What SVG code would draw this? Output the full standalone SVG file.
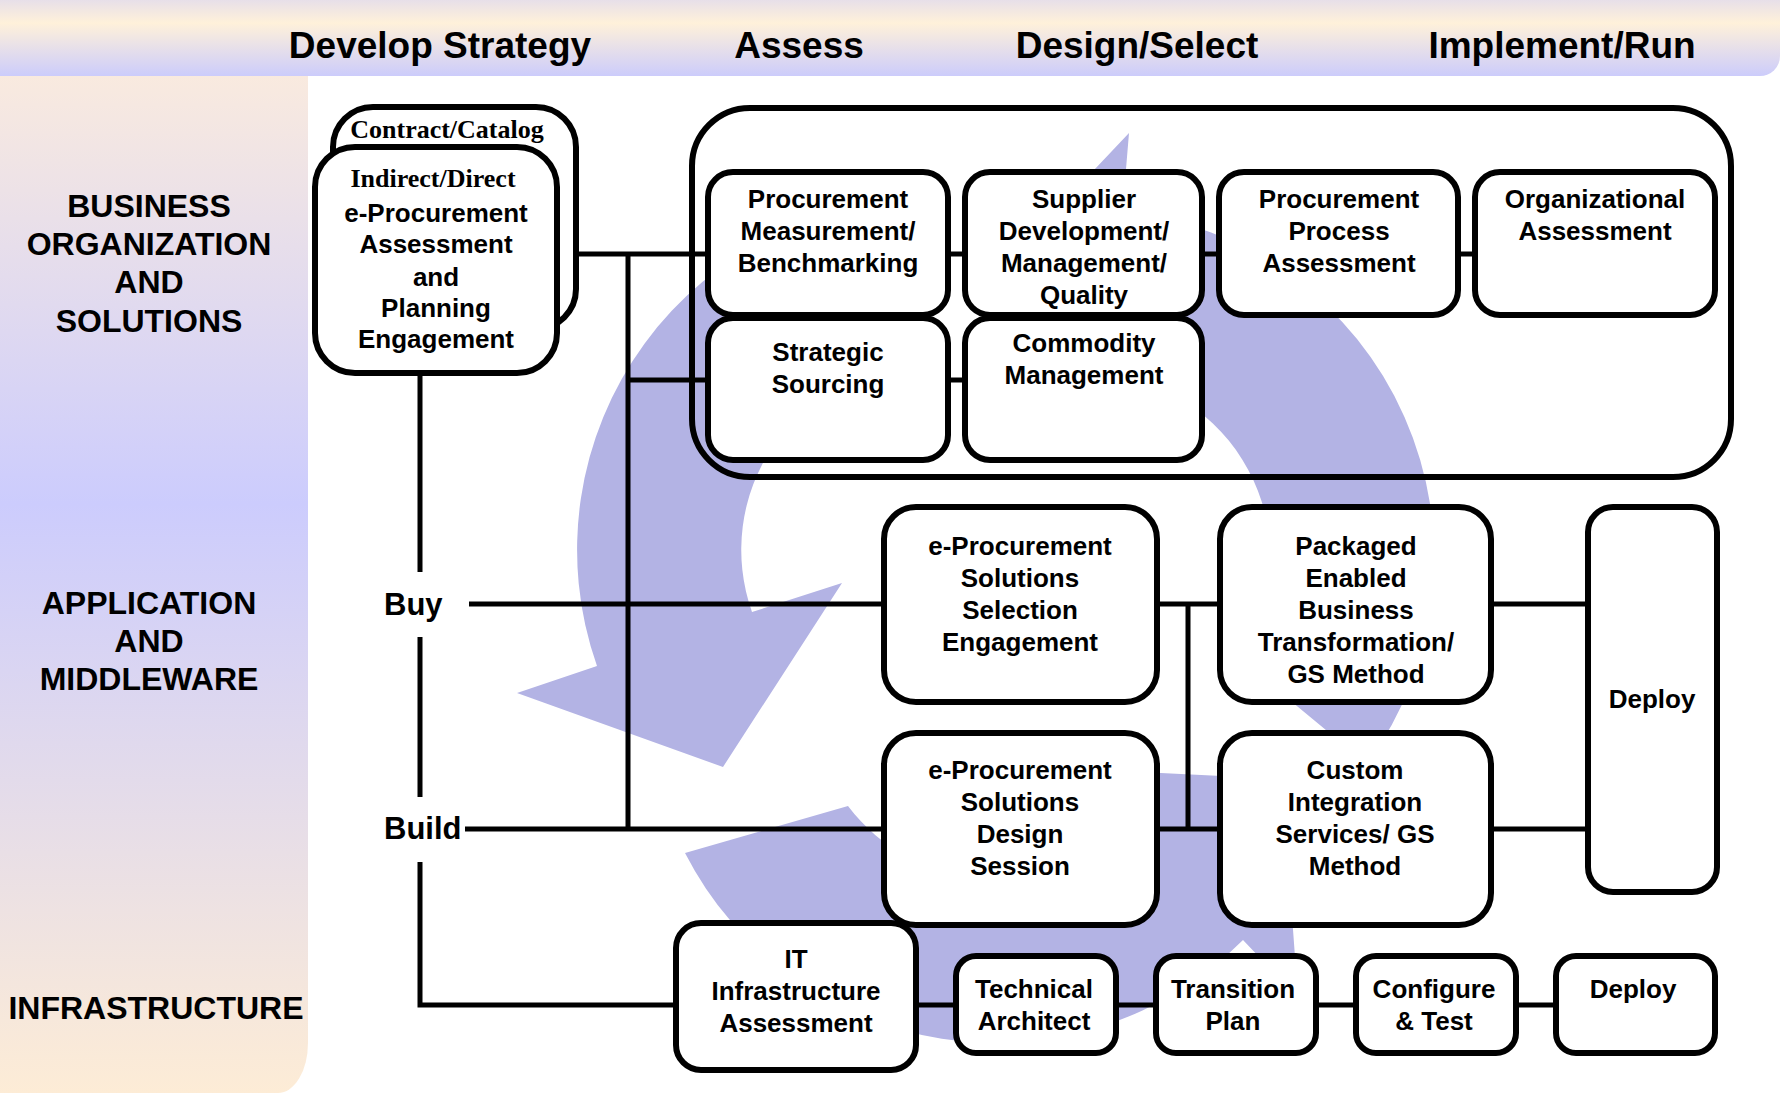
<svg xmlns="http://www.w3.org/2000/svg" width="1782" height="1093" viewBox="0 0 1782 1093">
<defs>
<linearGradient id="gHead" x1="0" y1="0" x2="0" y2="1">
<stop offset="0" stop-color="#c8c8fc"/>
<stop offset="0.5" stop-color="#fff1da"/>
<stop offset="1" stop-color="#ccccfb"/>
</linearGradient>
<linearGradient id="gSide" x1="0" y1="0" x2="0" y2="1">
<stop offset="0" stop-color="#f9eadf"/>
<stop offset="0.42" stop-color="#ccccfd"/>
<stop offset="1" stop-color="#fdecd6"/>
</linearGradient>
<style>
.bx{fill:#fff;stroke:#000;stroke-width:6}
.ct{fill:none;stroke:#000;stroke-width:6}
.ln{fill:none;stroke:#000;stroke-width:5;stroke-linecap:butt}
.arw{fill:#b3b3e4;stroke:none}
.t{font-family:"Liberation Sans",Arial,sans-serif;font-weight:bold;font-size:26px;text-anchor:middle;fill:#000}
.s{font-family:"Liberation Serif","Times New Roman",serif;font-weight:bold;font-size:26px;text-anchor:middle;fill:#000}
.h{font-family:"Liberation Sans",Arial,sans-serif;font-weight:bold;font-size:37px;text-anchor:middle;fill:#000}
.l{font-family:"Liberation Sans",Arial,sans-serif;font-weight:bold;font-size:32px;text-anchor:middle;fill:#000}
.bb{font-family:"Liberation Sans",Arial,sans-serif;font-weight:bold;font-size:31px;fill:#000}
</style>
</defs>
<rect width="1782" height="1093" fill="#fff"/>
<g id="header">
<rect x="-30" y="-30" width="1810" height="106" rx="20" fill="url(#gHead)"/>
<text class="h" x="440" y="58">Develop Strategy</text>
<text class="h" x="799" y="58">Assess</text>
<text class="h" x="1137" y="58">Design/Select</text>
<text class="h" x="1562" y="58">Implement/Run</text>
</g>
<g id="side">
<path d="M0 76 H308 V1043 A30 50 0 0 1 278 1093 H0 Z" fill="url(#gSide)"/>
<text class="l" x="149" y="217">BUSINESS</text>
<text class="l" x="149" y="255">ORGANIZATION</text>
<text class="l" x="149" y="293">AND</text>
<text class="l" x="149" y="332">SOLUTIONS</text>
<text class="l" x="149" y="614">APPLICATION</text>
<text class="l" x="149" y="652">AND</text>
<text class="l" x="149" y="690">MIDDLEWARE</text>
<text class="l" x="156" y="1019">INFRASTRUCTURE</text>
</g>
<g id="cycle">
<path class="arw" d="M938 201 A349 349 0 0 0 597 666 L517 693 L723 767 L842 583 L752 612 A185 185 0 0 1 919.5 365 Z"/>
<path class="arw" d="M685 853 A349 349 0 0 0 1243 940 L1298 998 L1282 779 L1080 769 L1130 822 A185 185 0 0 1 848 806 Z"/>
<path class="arw" d="M1367 764 A349 349 0 0 0 1122.5 211 L1129 133 L990 280 L1103 448 L1109 374 A185 185 0 0 1 1240 659 Z"/>
</g>
<g id="connectors">
<line class="ln" x1="574" y1="254" x2="708" y2="254"/>
<line class="ln" x1="948" y1="254" x2="965" y2="254"/>
<line class="ln" x1="1202" y1="254" x2="1219" y2="254"/>
<line class="ln" x1="1458" y1="254" x2="1475" y2="254"/>
<line class="ln" x1="628" y1="380" x2="708" y2="380"/>
<line class="ln" x1="948" y1="380" x2="965" y2="380"/>
<line class="ln" x1="628" y1="252" x2="628" y2="831"/>
<line class="ln" x1="420" y1="373" x2="420" y2="572"/>
<line class="ln" x1="420" y1="637" x2="420" y2="797"/>
<polyline class="ln" points="420,862 420,1005 676,1005"/>
<line class="ln" x1="469" y1="604" x2="884" y2="604"/>
<line class="ln" x1="1157" y1="604" x2="1220" y2="604"/>
<line class="ln" x1="1491" y1="604" x2="1588" y2="604"/>
<line class="ln" x1="1188" y1="602" x2="1188" y2="831"/>
<line class="ln" x1="465" y1="829" x2="884" y2="829"/>
<line class="ln" x1="1157" y1="829" x2="1220" y2="829"/>
<line class="ln" x1="1491" y1="829" x2="1588" y2="829"/>
<line class="ln" x1="916" y1="1005" x2="956" y2="1005"/>
<line class="ln" x1="1116" y1="1005" x2="1156" y2="1005"/>
<line class="ln" x1="1316" y1="1005" x2="1356" y2="1005"/>
<line class="ln" x1="1516" y1="1005" x2="1556" y2="1005"/>
<text class="bb" x="384" y="615">Buy</text>
<text class="bb" x="384" y="839">Build</text>
</g>
<g id="contract">
<rect class="bx" x="333" y="107" width="243" height="222" rx="40"/>
<text class="s" x="447" y="138">Contract/Catalog</text>
</g>
<g id="indirect">
<rect class="bx" x="315" y="147" width="242" height="226" rx="40"/>
<text class="s" x="433" y="187">Indirect/Direct</text>
<text class="t" x="436" y="222">e-Procurement</text>
<text class="t" x="436" y="253">Assessment</text>
<text class="t" x="436" y="286">and</text>
<text class="t" x="436" y="317">Planning</text>
<text class="t" x="436" y="348">Engagement</text>
</g>
<g id="container">
<rect class="ct" x="692" y="108" width="1039" height="369" rx="58"/>
</g>
<g id="n-pmb">
<rect class="bx" x="708" y="172" width="240" height="143" rx="25"/>
<text class="t" x="828" y="208">Procurement</text>
<text class="t" x="828" y="240">Measurement/</text>
<text class="t" x="828" y="272">Benchmarking</text>
</g>
<g id="n-sdm">
<rect class="bx" x="965" y="172" width="237" height="143" rx="25"/>
<text class="t" x="1084" y="208">Supplier</text>
<text class="t" x="1084" y="240">Development/</text>
<text class="t" x="1084" y="272">Management/</text>
<text class="t" x="1084" y="304">Quality</text>
</g>
<g id="n-ppa">
<rect class="bx" x="1219" y="172" width="239" height="143" rx="25"/>
<text class="t" x="1339" y="208">Procurement</text>
<text class="t" x="1339" y="240">Process</text>
<text class="t" x="1339" y="272">Assessment</text>
</g>
<g id="n-oa">
<rect class="bx" x="1475" y="172" width="240" height="143" rx="25"/>
<text class="t" x="1595" y="208">Organizational</text>
<text class="t" x="1595" y="240">Assessment</text>
</g>
<g id="n-ss">
<rect class="bx" x="708" y="318" width="240" height="142" rx="25"/>
<text class="t" x="828" y="361">Strategic</text>
<text class="t" x="828" y="393">Sourcing</text>
</g>
<g id="n-cm">
<rect class="bx" x="965" y="318" width="237" height="142" rx="25"/>
<text class="t" x="1084" y="352">Commodity</text>
<text class="t" x="1084" y="384">Management</text>
</g>
<g id="n-sel">
<rect class="bx" x="884" y="507" width="273" height="195" rx="32"/>
<text class="t" x="1020" y="555">e-Procurement</text>
<text class="t" x="1020" y="587">Solutions</text>
<text class="t" x="1020" y="619">Selection</text>
<text class="t" x="1020" y="651">Engagement</text>
</g>
<g id="n-pkg">
<rect class="bx" x="1220" y="507" width="271" height="195" rx="32"/>
<text class="t" x="1356" y="555">Packaged</text>
<text class="t" x="1356" y="587">Enabled</text>
<text class="t" x="1356" y="619">Business</text>
<text class="t" x="1356" y="651">Transformation/</text>
<text class="t" x="1356" y="683">GS Method</text>
</g>
<g id="n-deploy1">
<rect class="bx" x="1588" y="507" width="129" height="385" rx="25"/>
<text class="t" x="1652" y="708">Deploy</text>
</g>
<g id="n-des">
<rect class="bx" x="884" y="733" width="273" height="192" rx="32"/>
<text class="t" x="1020" y="779">e-Procurement</text>
<text class="t" x="1020" y="811">Solutions</text>
<text class="t" x="1020" y="843">Design</text>
<text class="t" x="1020" y="875">Session</text>
</g>
<g id="n-cus">
<rect class="bx" x="1220" y="733" width="271" height="192" rx="32"/>
<text class="t" x="1355" y="779">Custom</text>
<text class="t" x="1355" y="811">Integration</text>
<text class="t" x="1355" y="843">Services/ GS</text>
<text class="t" x="1355" y="875">Method</text>
</g>
<g id="n-it">
<rect class="bx" x="676" y="923" width="240" height="147" rx="25"/>
<text class="t" x="796" y="968">IT</text>
<text class="t" x="796" y="1000">Infrastructure</text>
<text class="t" x="796" y="1032">Assessment</text>
</g>
<g id="n-ta">
<rect class="bx" x="956" y="956" width="160" height="97" rx="20"/>
<text class="t" x="1034" y="998">Technical</text>
<text class="t" x="1034" y="1030">Architect</text>
</g>
<g id="n-tp">
<rect class="bx" x="1156" y="956" width="160" height="97" rx="20"/>
<text class="t" x="1233" y="998">Transition</text>
<text class="t" x="1233" y="1030">Plan</text>
</g>
<g id="n-cfg">
<rect class="bx" x="1356" y="956" width="160" height="97" rx="20"/>
<text class="t" x="1434" y="998">Configure</text>
<text class="t" x="1434" y="1030">&amp; Test</text>
</g>
<g id="n-deploy2">
<rect class="bx" x="1556" y="956" width="159" height="97" rx="20"/>
<text class="t" x="1633" y="998">Deploy</text>
</g>
</svg>
